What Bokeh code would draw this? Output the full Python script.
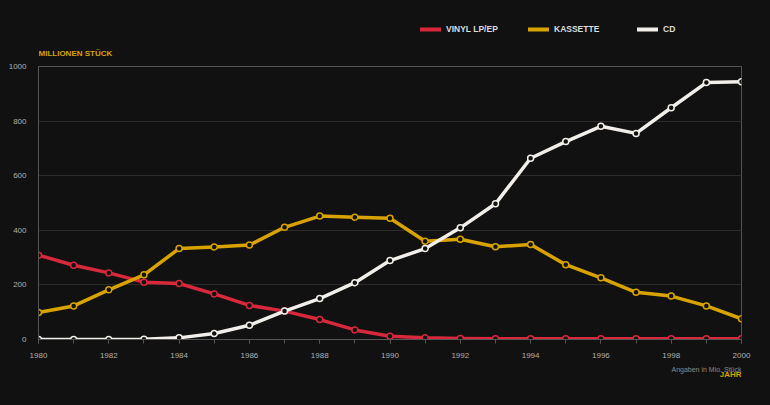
from bokeh.plotting import figure
from bokeh.models import Range1d, SingleIntervalTicker, Legend, LegendItem, Label
from bokeh.layouts import column
from bokeh.embed import file_html
from bokeh.resources import INLINE

years = list(range(1980, 2001))
vinyl = [309, 272, 244, 210, 205, 167, 125, 104, 73, 35, 12, 6, 4, 3, 3, 3, 3, 3, 3, 3, 3]
kassette = [99, 123, 182, 237, 333, 339, 346, 411, 452, 448, 444, 360, 367, 340, 348, 274, 226, 173, 159, 123, 76]
cd = [0, 0, 0, 1, 6, 22, 52, 104, 150, 208, 289, 333, 409, 497, 664, 725, 781, 755, 849, 941, 944]

series_names = ["VINYL LP/EP", "KASSETTE", "CD"]
series_colors = ["#d8283c", "#d8a300", "#f2efea"]
y_ticks = [0, 200, 400, 600, 800, 1000]

BG = "#111111"
FONT = "Liberation Sans"
W = 754
series = [vinyl, kassette, cd]


def blank(h):
    # frame of this strip is aligned by the column layout with the chart's frame
    f = figure(width=W, height=h, output_backend="svg", toolbar_location=None,
               x_axis_type=None, y_axis_type=None, x_range=Range1d(0, 1), y_range=Range1d(0, 1),
               min_border=0, background_fill_color=BG, border_fill_color=BG)
    f.outline_line_color = None
    f.grid.visible = False
    return f


# ---- header: legend and unit label
top = blank(60)
legend_x = [382, 490, 599]
for name, col, lx, vals in zip(series_names, series_colors, legend_x, series):
    # series drawn far outside this strip's visible range; used only for the legend swatch
    r = top.line(years, vals, line_color=col, line_width=4, line_cap="round")
    lg = Legend(items=[LegendItem(label=name, renderers=[r])], location=(lx, 25),
                orientation="horizontal", padding=0, margin=0,
                border_line_color=None, background_fill_alpha=0,
                glyph_width=21, glyph_height=12, label_height=12, label_standoff=5,
                label_text_font=FONT, label_text_font_style="bold",
                label_text_font_size="8.5px", label_text_color="#dddddd")
    top.add_layout(lg, "center")
top.add_layout(Label(x=0, y=7.5, x_units="screen", y_units="screen", text="MILLIONEN STÜCK",
                     text_font=FONT, text_font_style="bold", text_font_size="8px",
                     text_color="#d8a300", text_baseline="middle", text_align="left"))

# ---- main chart
p = figure(width=W, height=303, output_backend="svg", toolbar_location=None,
           x_range=Range1d(1980, 2000), y_range=Range1d(0, 1000),
           min_border_left=38, min_border_right=13, min_border_top=6, min_border_bottom=24,
           background_fill_color=BG, border_fill_color=BG)
p.outline_line_color = "#555555"
p.outline_line_width = 1

p.xgrid.grid_line_color = None
p.ygrid.grid_line_color = "#2c2c2c"
p.ygrid.ticker = y_ticks

p.xaxis.ticker = SingleIntervalTicker(interval=2, num_minor_ticks=2)
p.yaxis.ticker = y_ticks
for ax in (p.xaxis, p.yaxis):
    ax.axis_line_color = "#555555"
    ax.major_label_text_color = "#b0b0b0"
    ax.major_label_text_font = FONT
    ax.major_label_text_font_size = "8px"
p.xaxis.major_tick_line_color = "#555555"
p.xaxis.minor_tick_line_color = "#555555"
p.xaxis.major_tick_in = 0
p.xaxis.major_tick_out = 4
p.xaxis.minor_tick_in = 0
p.xaxis.minor_tick_out = 4
p.xaxis.major_label_standoff = 9
p.yaxis.major_tick_line_color = None
p.yaxis.minor_tick_line_color = None
p.yaxis.major_tick_in = 0
p.yaxis.major_tick_out = 0
p.yaxis.major_label_standoff = 12

for vals, col in zip(series, series_colors):
    p.line(years, vals, line_color=col, line_width=3.5, line_join="round", line_cap="round")
    p.scatter(years, vals, size=6, fill_color=BG, line_color=col, line_width=1.5)

# ---- footer notes
bottom = blank(26)
bottom.add_layout(Label(x=703, y=20, x_units="screen", y_units="screen", text="Angaben in Mio. Stück",
                        text_font=FONT, text_font_size="7px", text_color="#8a8a8a",
                        text_baseline="middle", text_align="right"))
bottom.add_layout(Label(x=703, y=15, x_units="screen", y_units="screen", text="JAHR",
                        text_font=FONT, text_font_style="bold", text_font_size="8px",
                        text_color="#d8a300", text_baseline="middle", text_align="right"))

page = column(top, p, bottom, spacing=0)
html = file_html(page, INLINE)
html = html.replace("</head>", "<style>html, body { background-color: #111111; }</style></head>", 1)
open("out.html", "w").write(html)
